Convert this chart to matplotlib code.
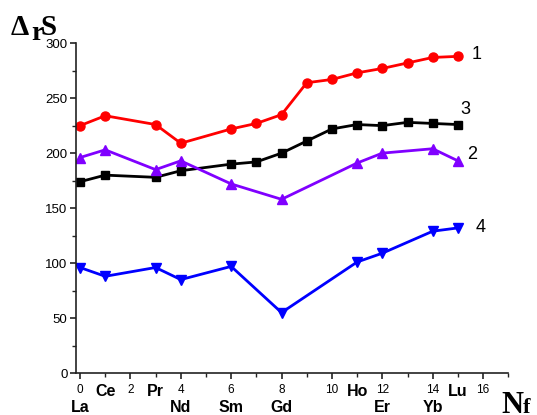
import numpy as np
import matplotlib
matplotlib.use('Agg')
import matplotlib.pyplot as plt
from matplotlib.ticker import MultipleLocator
import matplotlib.transforms as mtransforms

# Nf positions for each series
x_full = [0, 1, 3, 4, 6, 7, 8, 9, 10, 11, 12, 13, 14, 15]
x_part = [0, 1, 3, 4, 6, 8, 11, 12, 14, 15]

# series values
s1 = [225, 234, 226, 209, 222, 227, 235, 264, 267, 273, 277, 282, 287, 288]
s3 = [174, 180, 178, 184, 190, 192, 200, 211, 222, 226, 225, 228, 227, 226]
s2 = [196, 203, 185, 193, 172, 158, 191, 200, 204, 193]
s4 = [96, 88, 96, 85, 97, 55, 101, 109, 129, 132]

# element labels under the axis
elem_x = [0, 1, 3, 4, 6, 8, 11, 12, 14, 15]
elem_names = ['La', 'Ce', 'Pr', 'Nd', 'Sm', 'Gd', 'Ho', 'Er', 'Yb', 'Lu']
elem_row = [2, 1, 1, 2, 2, 2, 1, 2, 2, 1]

plt.rcParams['font.family'] = ['Liberation Sans', 'DejaVu Sans']

W, H = 537, 415
fig = plt.figure(figsize=(W / 100, H / 100), dpi=100)
ax = fig.add_axes([0.1415, 0.101, 0.805, 0.795])

ax.plot(x_full, s1, color='#ff0000', lw=2, marker='o', ms=6.5)
ax.plot(x_full, s3, color='black', lw=2, marker='s', ms=5.5)
ax.plot(x_part, s2, color='#8000ff', lw=2, marker='^', ms=7)
ax.plot(x_part, s4, color='#0000ff', lw=2, marker='v', ms=7)

# series numbers
ax.text(15.55, 290, '1', fontsize=13, va='center', ha='left')
ax.text(15.1, 240, '3', fontsize=13, va='center', ha='left')
ax.text(15.35, 199, '2', fontsize=13, va='center', ha='left')
ax.text(15.7, 132, '4', fontsize=13, va='center', ha='left')

ax.set_xlim(-0.16, 17.0)
ax.set_ylim(0, 300)
ax.spines['top'].set_visible(False)
ax.spines['right'].set_visible(False)
for s in ['left', 'bottom']:
    ax.spines[s].set_linewidth(1.2)
    ax.spines[s].set_color('#222222')

ax.set_xticks(np.arange(0, 17, 2))
ax.xaxis.set_minor_locator(MultipleLocator(1))
ax.set_yticks(np.arange(0, 301, 50))
ax.yaxis.set_minor_locator(MultipleLocator(25))
ax.tick_params(axis='both', which='major', direction='out', length=4, width=1.2, colors='#222222')
ax.tick_params(axis='both', which='minor', direction='out', length=3, width=1.0, colors='#222222')
ax.tick_params(axis='y', labelsize=9.5, pad=2, labelcolor='black')
ax.tick_params(axis='x', labelsize=8.5, pad=4, labelcolor='black')

trans = mtransforms.blended_transform_factory(ax.transData, ax.transAxes)
for ex, name, row in zip(elem_x, elem_names, elem_row):
    yy = -0.055 if row == 1 else -0.105
    ax.text(ex, yy, name, transform=trans, fontsize=11.5, fontweight='bold',
            ha='center', va='center')

# axis titles: Delta_r S (top left) and N_f (bottom right)
serif = dict(family='Liberation Serif', fontweight='bold', va='baseline', ha='left')
fig.text(11 / W, 1 - 35 / H, '\u0394', fontsize=21, **serif)
fig.text(31 / W, 1 - 40 / H, 'r', fontsize=20, **serif)
fig.text(41 / W, 1 - 35 / H, 'S', fontsize=21, **serif)
fig.text(501 / W, 1 - 413 / H, 'N', fontsize=22, **serif)
fig.text(523 / W, 1 - 413 / H, 'f', fontsize=16, **serif)

fig.savefig('out.png', dpi=100)
